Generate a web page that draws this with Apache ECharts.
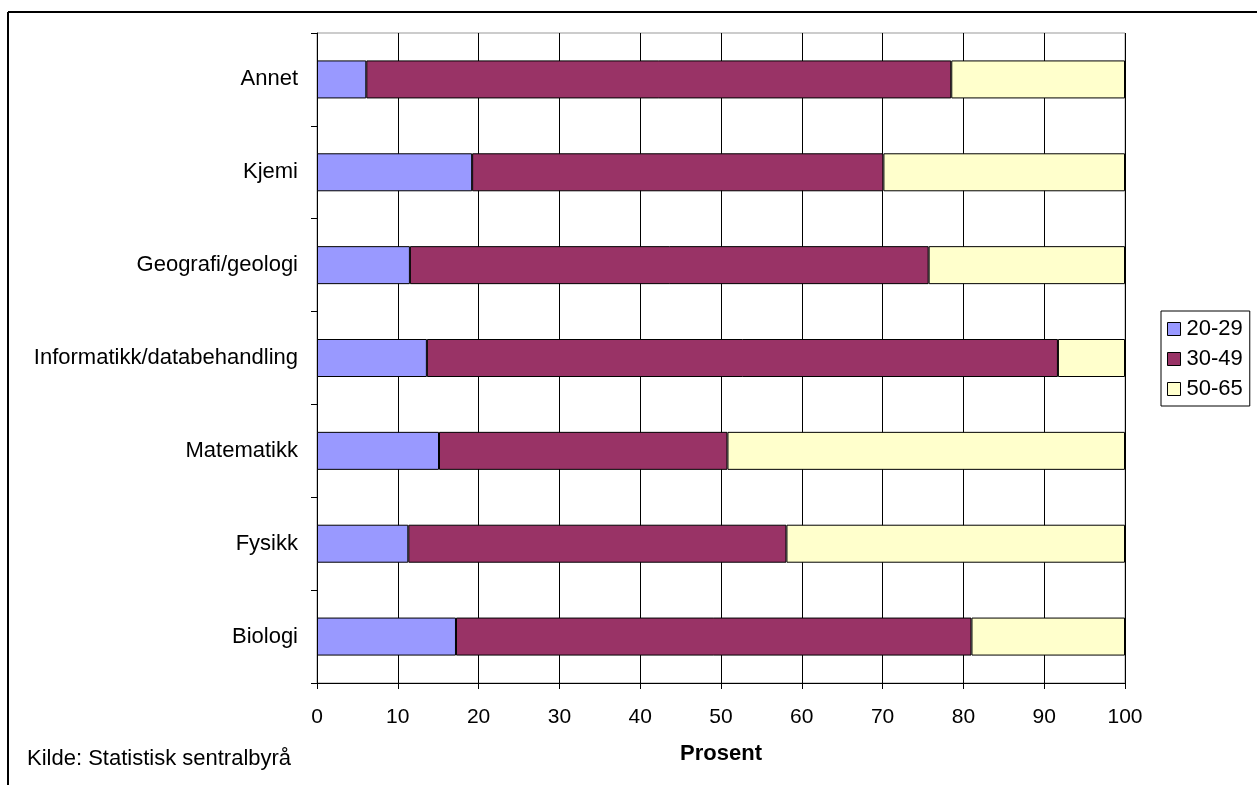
<!DOCTYPE html>
<html>
<head>
<meta charset="utf-8">
<script src="https://cdn.jsdelivr.net/npm/echarts@6/dist/echarts.min.js"></script>
<style>
html,body{margin:0;padding:0;background:#fff;}
#c{width:1257px;height:785px;}
</style>
</head>
<body>
<div id="c"></div>
<script>
const categories = ['Biologi','Fysikk','Matematikk','Informatikk/databehandling','Geografi/geologi','Kjemi','Annet'];
const s2029 = [17.2, 11.3, 15.1, 13.6, 11.5, 19.2, 6.1];
const s3049 = [63.8, 46.8, 35.7, 78.1, 64.2, 50.9, 72.4];
const s5065 = [19.0, 41.9, 49.2, 8.3, 24.3, 29.9, 21.5];
const seriesNames = ['20-29','30-49','50-65'];
const xTicks = [0,10,20,30,40,50,60,70,80,90,100];

const FONT = 'Liberation Sans, Arial, sans-serif';
const chart = echarts.init(document.getElementById('c'), null, {renderer:'canvas'});
const colors = ['#9999FF','#993366','#FFFFCC'];
const data = [s2029, s3049, s5065];

chart.setOption({
  animation:false,
  backgroundColor:'#fff',
  grid:{left:317, right:132, top:33, bottom:102, show:true, borderColor:'#999', borderWidth:1, backgroundColor:'transparent'},
  legend:{
    orient:'vertical', left:1161, top:311,
    data:seriesNames,
    icon:'rect', itemWidth:13, itemHeight:13, itemGap:8,
    itemStyle:{borderColor:'#000', borderWidth:1},
    padding:[7,7,6,6],
    borderColor:'#000', borderWidth:1,
    textStyle:{fontFamily:FONT, fontSize:22, color:'#000', padding:[0,0,0,1]}
  },
  xAxis:{
    type:'value', min:0, max:100, interval:10,
    axisLine:{show:true, lineStyle:{color:'#000', width:1}},
    axisTick:{show:true, length:6, lineStyle:{color:'#000'}},
    splitLine:{show:true, lineStyle:{color:'#000', width:1}},
    axisLabel:{fontFamily:FONT, fontSize:21, color:'#000', margin:24,
      formatter:function(v){ return xTicks.indexOf(v)>=0 ? String(v) : ''; }},
    name:'Prosent', nameLocation:'middle', nameGap:60,
    nameTextStyle:{fontFamily:FONT, fontSize:22, fontWeight:'bold', color:'#000'}
  },
  yAxis:{
    type:'category', data:categories,
    axisLine:{show:true, lineStyle:{color:'#000', width:1}},
    axisTick:{show:true, length:6, lineStyle:{color:'#000'}},
    splitLine:{show:false},
    axisLabel:{fontFamily:FONT, fontSize:22, color:'#000', margin:19}
  },
  series: seriesNames.map((n,i)=>({
    name:n, type:'bar', stack:'total', barWidth:38,
    data:data[i],
    itemStyle:{color:colors[i], borderColor:'#000', borderWidth:1}
  })),
  graphic:[
    {type:'line', shape:{x1:8, y1:12, x2:1257, y2:12}, style:{stroke:'#000', lineWidth:2}},
    {type:'line', shape:{x1:8, y1:12, x2:8, y2:785}, style:{stroke:'#000', lineWidth:2}},
    {type:'text', left:27, top:748, style:{text:'Kilde: Statistisk sentralbyrå', font:'22px Liberation Sans, Arial, sans-serif', fill:'#000'}}
  ]
});
</script>
</body>
</html>
